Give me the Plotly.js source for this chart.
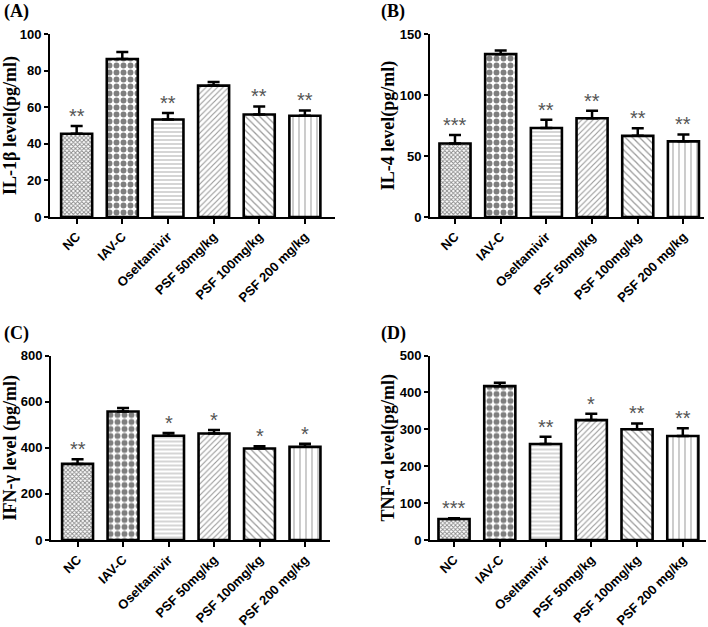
<!DOCTYPE html>
<html>
<head>
<meta charset="utf-8">
<script src="https://cdn.plot.ly/plotly-3.0.1.min.js"></script>
<style>html,body{margin:0;padding:0;background:#fff;}#chart{width:708px;height:627px;}</style>
</head>
<body>
<div id="chart"></div>
<script>
const categories = ['NC', 'IAV-C', 'Oseltamivir', 'PSF 50mg/kg', 'PSF 100mg/kg', 'PSF 200 mg/kg'];

const il1b = [45.5, 86.3, 53.3, 71.8, 56.0, 55.3];
const il1bErr = [4.2, 3.8, 3.5, 2.0, 4.4, 2.9];
const il1bSig = ['**', '', '**', '', '**', '**'];

const il4 = [60.3, 133.5, 73.0, 81.0, 66.5, 62.0];
const il4Err = [7.0, 3.0, 6.8, 6.0, 6.3, 5.7];
const il4Sig = ['***', '', '**', '**', '**', '**'];

const ifng = [330, 557, 452, 462, 397, 404];
const ifngErr = [20, 15, 12, 15, 10, 13];
const ifngSig = ['**', '', '*', '*', '*', '*'];

const tnfa = [57, 417, 260, 325, 300, 282];
const tnfaErr = [2, 9, 20, 17, 16, 21];
const tnfaSig = ['***', '', '**', '*', '**', '**'];

const panelLabels = ['(A)', '(B)', '(C)', '(D)'];
const yTitles = ['IL-1\u03b2 level(pg/ml)', 'IL-4 level(pg/ml)', 'IFN-\u03b3 level (pg/ml)', 'TNF-\u03b1 level(pg/ml)'];
const yTicks = [[0, 20, 40, 60, 80, 100], [0, 50, 100, 150], [0, 200, 400, 600, 800], [0, 100, 200, 300, 400, 500]];

const panels = [
  {vals: il1b, err: il1bErr, sig: il1bSig},
  {vals: il4, err: il4Err, sig: il4Sig},
  {vals: ifng, err: ifngErr, sig: ifngSig},
  {vals: tnfa, err: tnfaErr, sig: tnfaSig}
];

// styling (not data)
const W = 708, H = 627;
const geom = [
  {x0: 50, x1: 335, yTop: 34, yBot: 217, xr: [-0.584, 5.66], lx: 2, ly: 12},
  {x0: 430, x1: 704, yTop: 34, yBot: 217, xr: [-0.547, 5.45], lx: 379, ly: 12},
  {x0: 51, x1: 330, yTop: 355.5, yBot: 540, xr: [-0.584, 5.55], lx: 2, ly: 333},
  {x0: 430, x1: 705.7, yTop: 355.5, yBot: 540, xr: [-0.525, 5.5], lx: 379, ly: 333}
];
const pattern = {
  shape: ['x', '.', '-', '/', '\\', '|'],
  size: [3, 7, 4, 4, 5, 6],
  solidity: [0.5, 0.55, 0.25, 0.28, 0.25, 0.2],
  fgcolor: ['#111', '#000', '#555', '#333', '#333', '#555'],
  bgcolor: '#fff',
  fillmode: 'overlay'
};

const tickFont = {family: 'Liberation Sans, Arial, sans-serif', size: 13, color: '#000', weight: 'bold'};
const titleFont = {family: 'Liberation Serif, Times New Roman, serif', size: 18, color: '#000', weight: 'bold'};

const data = [];
const layout = {
  width: W, height: H,
  margin: {l: 0, r: 0, t: 0, b: 0},
  paper_bgcolor: '#fff', plot_bgcolor: 'rgba(0,0,0,0)',
  showlegend: false,
  annotations: []
};

panels.forEach((p, i) => {
  const g = geom[i];
  const sfx = i === 0 ? '' : String(i + 1);
  const xa = 'x' + sfx, ya = 'y' + sfx;
  data.push({
    type: 'bar',
    x: categories,
    y: p.vals,
    xaxis: xa, yaxis: ya,
    width: 0.68,
    marker: {color: '#fff', line: {color: '#000', width: 2.6}, pattern: pattern},
    error_y: {type: 'data', symmetric: false, array: p.err, arrayminus: p.vals.map(() => 0), color: '#000', thickness: 2.5, width: 6},
    hoverinfo: 'x+y'
  });
  layout['xaxis' + sfx] = {
    domain: [g.x0 / W, g.x1 / W],
    anchor: ya,
    range: g.xr,
    type: 'category',
    showline: true, linecolor: '#000', linewidth: 2,
    ticks: 'outside', ticklen: 5, tickwidth: 2, tickcolor: '#000',
    tickangle: -45,
    tickfont: tickFont,
    showgrid: false, zeroline: false, fixedrange: true
  };
  const tv = yTicks[i];
  layout['yaxis' + sfx] = {
    domain: [1 - g.yBot / H, 1 - g.yTop / H],
    anchor: xa,
    range: [0, tv[tv.length - 1]],
    tickvals: tv,
    showline: true, linecolor: '#000', linewidth: 2,
    ticks: 'outside', ticklen: 4, tickwidth: 2, tickcolor: '#000',
    tickfont: tickFont,
    showgrid: false, zeroline: false, fixedrange: true,
    title: {text: yTitles[i], font: titleFont, standoff: 0}
  };
  layout.annotations.push({
    text: panelLabels[i], xref: 'paper', yref: 'paper',
    x: g.lx / W, y: 1 - g.ly / H, xanchor: 'left', yanchor: 'middle',
    showarrow: false,
    font: {family: 'Liberation Serif, Times New Roman, serif', size: 18, color: '#000', weight: 'bold'}
  });
  p.sig.forEach((s, k) => {
    if (!s) return;
    layout.annotations.push({
      text: s, xref: xa, yref: ya,
      x: categories[k], y: p.vals[k] + p.err[k],
      xanchor: 'center', yanchor: 'bottom', yshift: -3,
      showarrow: false,
      font: {family: 'Liberation Sans, Arial, sans-serif', size: 20, color: '#555'}
    });
  });
});

Plotly.newPlot('chart', data, layout, {staticPlot: true, displayModeBar: false});
</script>
</body>
</html>
